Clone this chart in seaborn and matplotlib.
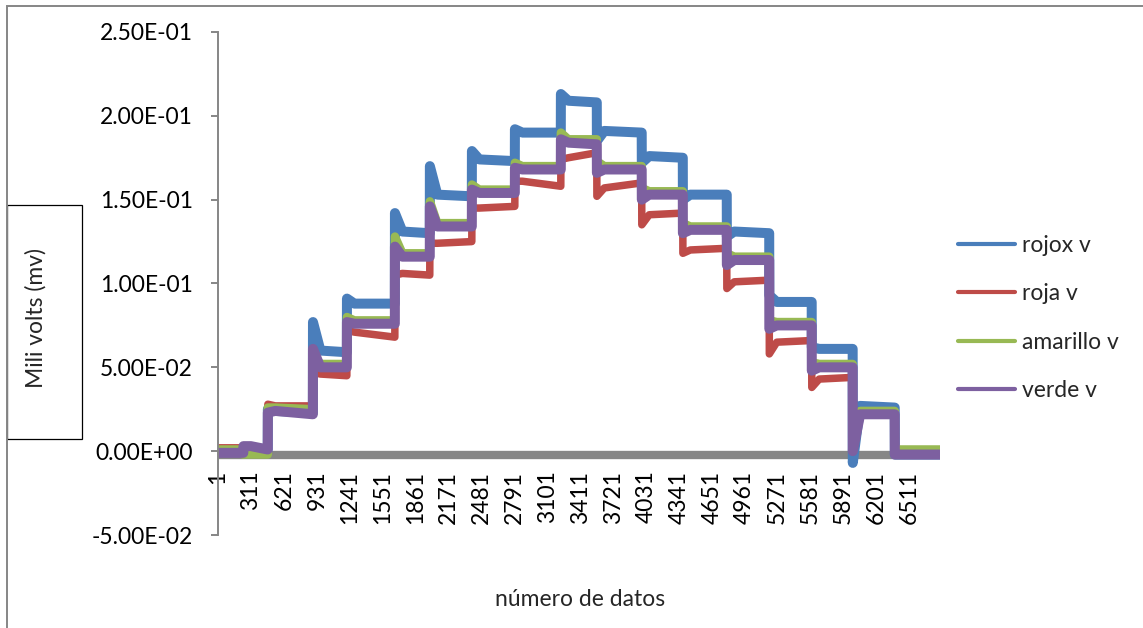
import numpy as np
import pandas as pd
import matplotlib
matplotlib.use("Agg")
import matplotlib.pyplot as plt
import seaborn as sns
from matplotlib.patches import Rectangle
import matplotlib.patheffects as pe
from matplotlib.ticker import FuncFormatter, FixedLocator, FixedFormatter
from matplotlib.lines import Line2D

# ---------------- data ----------------
series_names = ["rojox v", "roja v", "amarillo v", "verde v"]
series_colors = ["#4A7EBB", "#BE4B48", "#98B954", "#7D60A0"]
n_points = 6800
# index where each plateau begins
step_starts = [1, 240, 470, 895, 1215, 1667, 1996, 2392, 2797, 3230,
               3569, 3992, 4379, 4793, 5193, 5593, 5979, 6375]
settle = 70
x_tick_values = list(range(1, 6512, 310))
y_tick_values = [-0.05, 0.0, 0.05, 0.10, 0.15, 0.20, 0.25]

# value just after each step, after settling, and at the end of the plateau
rojox_peak  = [0.000, 0.002, 0.025, 0.077, 0.091, 0.142, 0.170, 0.179, 0.192, 0.213, 0.185, 0.172, 0.150, 0.128, 0.093, 0.062, -0.007, -0.002]
rojox_start = [0.000, 0.002, 0.024, 0.060, 0.088, 0.131, 0.153, 0.174, 0.190, 0.209, 0.191, 0.176, 0.153, 0.131, 0.089, 0.061, 0.027, -0.002]
rojox_end   = [0.001, 0.001, 0.023, 0.059, 0.088, 0.130, 0.152, 0.173, 0.190, 0.208, 0.190, 0.175, 0.153, 0.130, 0.089, 0.061, 0.026, -0.002]

roja_peak  = [0.002, 0.002, 0.028, 0.047, 0.072, 0.105, 0.124, 0.145, 0.161, 0.174, 0.152, 0.135, 0.118, 0.097, 0.058, 0.038, 0.005, -0.001]
roja_start = [0.002, 0.002, 0.027, 0.046, 0.071, 0.106, 0.124, 0.145, 0.161, 0.175, 0.157, 0.141, 0.120, 0.101, 0.065, 0.043, 0.023, -0.001]
roja_end   = [0.002, 0.002, 0.027, 0.045, 0.068, 0.105, 0.125, 0.146, 0.158, 0.178, 0.160, 0.142, 0.121, 0.102, 0.066, 0.044, 0.023, -0.001]

amarillo_peak  = [0.001, -0.002, 0.026, 0.058, 0.080, 0.128, 0.149, 0.159, 0.172, 0.190, 0.173, 0.157, 0.136, 0.118, 0.078, 0.053, 0.003, 0.001]
amarillo_start = [0.001, -0.002, 0.026, 0.052, 0.078, 0.118, 0.136, 0.156, 0.170, 0.186, 0.170, 0.155, 0.134, 0.116, 0.077, 0.052, 0.024, 0.001]
amarillo_end   = [0.001, -0.002, 0.025, 0.052, 0.078, 0.118, 0.136, 0.156, 0.170, 0.186, 0.170, 0.155, 0.134, 0.116, 0.077, 0.052, 0.024, 0.001]

verde_peak  = [-0.001, 0.003, 0.023, 0.061, 0.077, 0.122, 0.146, 0.156, 0.169, 0.186, 0.166, 0.150, 0.130, 0.111, 0.073, 0.048, 0.000, -0.002]
verde_start = [-0.001, 0.003, 0.024, 0.050, 0.076, 0.116, 0.134, 0.154, 0.168, 0.184, 0.168, 0.153, 0.132, 0.114, 0.075, 0.050, 0.022, -0.002]
verde_end   = [-0.001, 0.001, 0.022, 0.050, 0.076, 0.116, 0.134, 0.154, 0.168, 0.183, 0.168, 0.153, 0.132, 0.114, 0.075, 0.050, 0.022, -0.002]

series_values = {
    "rojox v": (rojox_peak, rojox_start, rojox_end),
    "roja v": (roja_peak, roja_start, roja_end),
    "amarillo v": (amarillo_peak, amarillo_start, amarillo_end),
    "verde v": (verde_peak, verde_start, verde_end),
}
line_widths_px = {"rojox v": 10, "roja v": 7.5, "amarillo v": 8.5, "verde v": 10}

# build long table of vertices
rows = []
bounds = step_starts + [n_points + 1]
for name in series_names:
    pk, st, en = series_values[name]
    for k in range(len(step_starts)):
        x0, x1 = bounds[k], bounds[k + 1] - 1
        rows.append((name, x0, pk[k]))
        rows.append((name, x0 + settle, st[k]))
        rows.append((name, x1, en[k]))
df = pd.DataFrame(rows, columns=["serie", "dato", "valor"])

# ---------------- figure ----------------
sns.set_theme(style="white")
plt.rcParams["font.family"] = ["Lato", "DejaVu Sans"]
FS = 16.5
W, H = 1143, 628
fig = plt.figure(figsize=(W / 100, H / 100), dpi=100)
ax = fig.add_axes([218 / W, 1 - 535 / H, (940 - 218) / W, (535 - 32) / H])

for name, col in zip(series_names, series_colors):
    sub = df[df["serie"] == name]
    sns.lineplot(data=sub, x="dato", y="valor", ax=ax, color=col,
                 lw=line_widths_px[name] * 0.72, estimator=None, sort=False,
                 solid_joinstyle="round", solid_capstyle="round", legend=False)

ax.set_xlim(0.5, n_points + 0.5)
ax.set_ylim(-0.05, 0.25)
ax.set_yticks(y_tick_values)
ax.yaxis.set_major_formatter(FuncFormatter(lambda v, p: f"{v:.2E}"))
ax.xaxis.set_major_locator(FixedLocator(x_tick_values))
ax.xaxis.set_major_formatter(FixedFormatter([str(v) for v in x_tick_values]))
ax.set_xlabel("")
ax.set_ylabel("")

for s in ["top", "right"]:
    ax.spines[s].set_visible(False)
ax.spines["left"].set_color("#868686")
ax.spines["left"].set_linewidth(1.4)
ax.spines["bottom"].set_position(("data", 0))
ax.spines["bottom"].set_color("#868686")
ax.spines["bottom"].set_linewidth(6)
ax.spines["bottom"].set_zorder(1.5)
ax.spines["bottom"].set_capstyle("butt")
ax.spines["bottom"].set_path_effects([pe.Stroke(offset=(0, -3))])

ax.tick_params(axis="y", direction="out", length=5, width=1.4, color="#868686",
               labelsize=FS, pad=13, left=True, labelcolor="black")
ax.tick_params(axis="x", length=0, labelsize=FS, pad=14, labelrotation=90,
               labelcolor="black")

# legend
handles = [Line2D([0], [0], color=c, lw=3.0, solid_capstyle="round") for c in series_colors]
fig.legend(handles, series_names, loc="center left",
           bbox_to_anchor=(958 / W, 1 - 318 / H), frameon=False, fontsize=FS,
           handlelength=2.5, handletextpad=0.3, labelspacing=1.2,
           borderpad=0, borderaxespad=0)

# axis titles
fig.text(580 / W, 1 - 600 / H, "número de datos", ha="center", va="center", fontsize=FS)
fig.text(36 / W, 1 - 318 / H, "Mili volts (mv)", ha="center", va="center",
         rotation=90, fontsize=FS)
fig.patches.append(Rectangle((7 / W, 1 - 439 / H), (82 - 7) / W, (439 - 205) / H,
                             transform=fig.transFigure, fill=False,
                             edgecolor="black", lw=0.9))
# chart-area border
fig.patches.append(Rectangle((7 / W, -0.05), 1.1, 1 - 6 / H + 0.05,
                             transform=fig.transFigure, fill=False,
                             edgecolor="#868686", lw=1.4))

fig.savefig("out.png", dpi=100, facecolor="white")
